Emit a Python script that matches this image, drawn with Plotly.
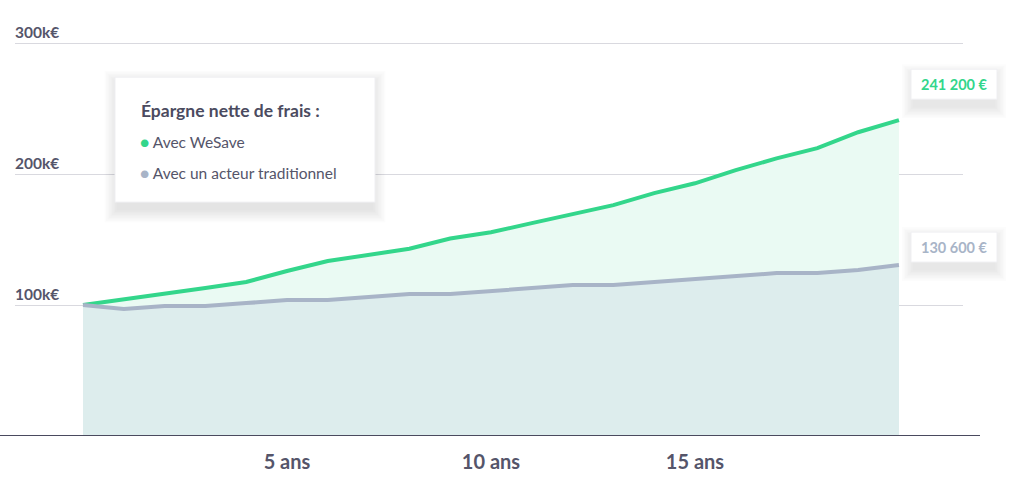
import plotly.graph_objects as go

# ---------------- data ----------------
years = list(range(0, 21))
wesave = [100000, 104200, 108600, 113000, 117600, 126000, 133600, 138300, 143000,
          150800, 155600, 162600, 169500, 176300, 185500, 193000, 203000, 212000,
          219800, 232000, 241200]
traditionnel = [100000, 97000, 99200, 99200, 101500, 103800, 103800, 106100, 108400,
                108400, 110700, 113000, 115300, 115300, 117600, 119800, 122100,
                124400, 124400, 126700, 130600]
y_ticks = [100000, 200000, 300000]
y_tick_labels = ["100k€", "200k€", "300k€"]
x_ticks = [5, 10, 15]
x_tick_labels = ["5 ans", "10 ans", "15 ans"]
legend_title = "Épargne nette de frais :"
series_names = ["Avec WeSave", "Avec un acteur traditionnel"]

# ---------------- style ----------------
GREEN = "#33d68b"
GRAY = "#a8b4c7"
GREEN_FILL = "#eafaf3"
GRAY_FILL = "#ddeded"
TEXT = "#55556a"
DARK = "#4a4a5e"
FONT = "Lato"

W, H = 1024, 495
YMAX = 320000
L, R, B = 15, 61, 59
PH = 393 * YMAX / 300000
T = H - B - PH
PW = W - L - R


def px(xp):
    return (xp - L) / PW


def py(yp):
    return (H - B - yp) / PH


def fmt_eur(v):
    return f"{v:,.0f}".replace(",", " ") + " €"


fig = go.Figure()
fig.add_trace(go.Scatter(x=years, y=wesave, mode="lines", name=series_names[0],
                         line=dict(color=GREEN, width=4), fill="tozeroy",
                         fillcolor=GREEN_FILL, hoverinfo="skip", showlegend=False))
fig.add_trace(go.Scatter(x=years, y=traditionnel, mode="lines", name=series_names[1],
                         line=dict(color=GRAY, width=4), fill="tozeroy",
                         fillcolor=GRAY_FILL, hoverinfo="skip", showlegend=False))

shapes = []


def shadow_paper(x0, y0, x1, y1, layers=9, dy=7, alpha=0.010):
    for i in range(layers, 0, -1):
        e = i * 1.5
        shapes.append(dict(type="rect", xref="paper", yref="paper",
                           x0=px(x0 - e + 3), x1=px(x1 + e - 3),
                           y0=py(y0 - e + dy), y1=py(y1 + e + dy),
                           line=dict(width=0), fillcolor=f"rgba(0,0,0,{alpha})",
                           layer="above"))


# legend box
lx0, ly0, lx1, ly1 = 115, 77, 375, 202
shadow_paper(lx0, ly0, lx1, ly1)
shapes.append(dict(type="rect", xref="paper", yref="paper",
                   x0=px(lx0), x1=px(lx1), y0=py(ly0), y1=py(ly1),
                   line=dict(color="#efeff2", width=1), fillcolor="white", layer="above"))

# value boxes
box_specs = [(wesave[-1], GREEN, 84), (traditionnel[-1], GRAY, 247)]
for val, col, cy in box_specs:
    bx0, bx1 = 911, 997
    by0, by1 = cy - 15, cy + 15
    shadow_paper(bx0, by0, bx1, by1, layers=8, dy=7, alpha=0.012)
    shapes.append(dict(type="rect", xref="paper", yref="paper",
                       x0=px(bx0), x1=px(bx1), y0=py(by0), y1=py(by1),
                       line=dict(color="#efeff2", width=1), fillcolor="white",
                       layer="above"))

# bottom axis line (wider than grid)
shapes.append(dict(type="line", xref="paper", yref="y", x0=px(0), x1=px(980),
                   y0=0, y1=0, line=dict(color=DARK, width=2), layer="above"))

annotations = []
annotations.append(dict(xref="paper", yref="paper", x=px(139), y=py(110),
                        xanchor="left", yanchor="middle", showarrow=False,
                        text=f"<b>{legend_title}</b>",
                        font=dict(family=FONT, size=17.5, color="#4b4b60")))
for name, col, yy in [(series_names[0], GREEN, 142), (series_names[1], GRAY, 173)]:
    annotations.append(dict(xref="paper", yref="paper", x=px(138), y=py(yy),
                            xanchor="left", yanchor="middle", showarrow=False,
                            text=f"<span style='color:{col}'>●</span> {name}",
                            font=dict(family=FONT, size=15.5, color=TEXT)))
for val, col, cy in box_specs:
    annotations.append(dict(xref="paper", yref="paper", x=px(954), y=py(cy),
                            xanchor="center", yanchor="middle", showarrow=False,
                            text=f"<b>{fmt_eur(val)}</b>",
                            font=dict(family=FONT, size=14.5, color=col)))

fig.update_layout(
    width=W, height=H,
    margin=dict(l=L, r=R, t=T, b=B, pad=0),
    paper_bgcolor="white", plot_bgcolor="white",
    shapes=shapes, annotations=annotations,
    showlegend=False,
    xaxis=dict(range=[-1.667, 21.57], tickvals=x_ticks,
               ticktext=[f"<b>{t}</b>" for t in x_tick_labels],
               showgrid=False, zeroline=False, showline=False, ticks="",
               tickfont=dict(family=FONT, size=20, color=TEXT),
               ticklabelstandoff=12, fixedrange=True),
    yaxis=dict(range=[0, YMAX], tickvals=y_ticks,
               ticktext=[f"<b>{t}</b>" for t in y_tick_labels],
               showgrid=True, gridcolor="#d9d9df", gridwidth=1,
               zeroline=False, showline=False, ticks="",
               ticklabelposition="inside top", ticklabelstandoff=-3,
               tickfont=dict(family=FONT, size=15.5, color=TEXT),
               fixedrange=True),
    font=dict(family=FONT),
)

fig.write_html("out.html", config={"displayModeBar": False},
               post_script="document.body.style.margin='0';")
